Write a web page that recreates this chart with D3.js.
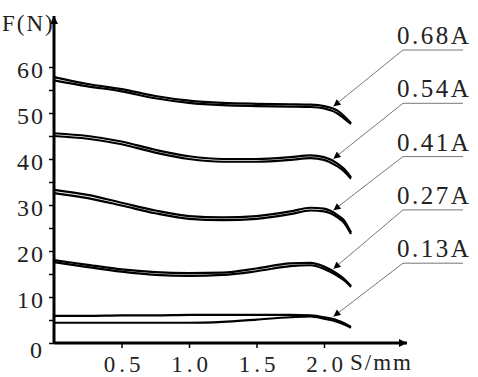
<!DOCTYPE html>
<html>
<head>
<meta charset="utf-8">
<script src="https://cdn.jsdelivr.net/npm/d3@7"></script>
<style>
body { margin: 0; background: #fff; }
text { font-family: "Liberation Serif", "DejaVu Serif", serif; fill: #222; }
</style>
</head>
<body>
<div id="graph1"></div>
<script>
let width = 478;
let height = 377;

// displacement S (mm)
let S = [0, 0.25, 0.5, 0.75, 1.0, 1.25, 1.5, 1.75, 1.9, 2.0, 2.1, 2.15, 2.2];
let currents = ["0.68A", "0.54A", "0.41A", "0.27A", "0.13A"];

// force F (N), two passes for each current
let f068a = [57.8, 56.3, 55.2, 53.7, 52.7, 52.2, 52.0, 51.9, 51.8, 51.5, 50.5, 49.3, 47.8];
let f068b = [57.1, 55.8, 54.7, 53.2, 52.2, 51.7, 51.5, 51.4, 51.3, 51.0, 49.9, 48.8, 47.6];
let f054a = [45.6, 45.0, 43.8, 42.0, 40.6, 40.0, 40.0, 40.4, 40.8, 40.4, 39.0, 37.8, 36.0];
let f054b = [45.0, 44.4, 43.2, 41.4, 40.0, 39.4, 39.4, 39.8, 40.2, 39.8, 38.4, 37.3, 35.7];
let f041a = [33.3, 32.2, 30.5, 28.8, 27.6, 27.3, 27.6, 28.6, 29.4, 29.2, 27.8, 26.6, 24.0];
let f041b = [32.6, 31.5, 29.9, 28.2, 27.0, 26.7, 27.0, 28.0, 28.8, 28.6, 27.3, 26.1, 23.7];
let f027a = [18.0, 17.0, 16.0, 15.4, 15.2, 15.3, 16.2, 17.3, 17.4, 16.6, 15.0, 13.9, 12.4];
let f027b = [17.6, 16.5, 15.5, 14.8, 14.6, 14.8, 15.6, 16.7, 16.9, 16.1, 14.6, 13.6, 12.2];
let f013a = [5.9, 5.9, 6.0, 6.0, 6.1, 6.1, 6.1, 6.1, 6.0, 5.6, 4.9, 4.3, 3.5];
let f013b = [4.4, 4.4, 4.4, 4.4, 4.4, 4.6, 5.1, 5.6, 5.8, 5.3, 4.6, 4.0, 3.3];

let xTicks = [0.5, 1.0, 1.5, 2.0];
let yTicks = [0, 5, 10, 15, 20, 25, 30, 35, 40, 45, 50, 55, 60];

let series = [
    {name: currents[0], lines: [f068a, f068b]},
    {name: currents[1], lines: [f054a, f054b]},
    {name: currents[2], lines: [f041a, f041b]},
    {name: currents[3], lines: [f027a, f027b]},
    {name: currents[4], lines: [f013a, f013b]}
];

let svg = d3.select('#graph1')
    .append('svg')
        .attr('width', width)
        .attr('height', height);

let defs = svg.append('defs');
defs.append('marker')
    .attr('id', 'axisArrow')
    .attr('viewBox', '0 0 10 10')
    .attr('refX', 10).attr('refY', 5)
    .attr('markerUnits', 'userSpaceOnUse')
    .attr('markerWidth', 12).attr('markerHeight', 8)
    .attr('orient', 'auto')
    .append('path').attr('d', 'M0,0L10,5L0,10z').attr('fill', '#000');
defs.append('marker')
    .attr('id', 'leadArrow')
    .attr('viewBox', '0 0 10 10')
    .attr('refX', 10).attr('refY', 5)
    .attr('markerUnits', 'userSpaceOnUse')
    .attr('markerWidth', 13).attr('markerHeight', 7)
    .attr('orient', 'auto')
    .append('path').attr('d', 'M0,0L10,5L0,10z').attr('fill', '#000');

let x = d3.scaleLinear()
    .domain([0, 2.2])
    .range([54, 351]);
let y = d3.scaleLinear()
    .domain([0, 60])
    .range([343, 67]);

// curves
let line = d3.line()
    .x((d, i) => x(S[i]))
    .y(d => y(d))
    .curve(d3.curveMonotoneX);

series.forEach(function(s) {
    s.lines.forEach(function(vals) {
        svg.append('path')
            .attr('d', line(vals))
            .attr('fill', 'none')
            .attr('stroke', '#000')
            .attr('stroke-width', 2.2);
    });
});

// axes
let xAxis = d3.axisBottom(x)
    .tickValues(xTicks)
    .tickSize(5)
    .tickPadding(8)
    .tickFormat(d3.format('.1f'));
let gx = svg.append('g')
    .attr('transform', 'translate(0,343)')
    .call(xAxis);
gx.select('.domain').remove();
gx.selectAll('line').attr('stroke', '#000').attr('stroke-width', 1.5);
gx.selectAll('text')
    .style('font-size', '23px')
    .style('letter-spacing', '4px')
    .attr('dx', '2px')
    .attr('fill', '#222');

let yAxis = d3.axisLeft(y)
    .tickValues(yTicks)
    .tickSize(5)
    .tickPadding(6)
    .tickFormat(d => d % 10 === 0 ? d : '');
let gy = svg.append('g')
    .attr('transform', 'translate(54,0)')
    .call(yAxis);
gy.select('.domain').remove();
gy.selectAll('line').attr('stroke', '#000').attr('stroke-width', 1.5);
gy.selectAll('text')
    .style('font-size', '24px')
    .style('letter-spacing', '2px')
    .attr('fill', '#222')
    .attr('dy', d => d === 0 ? '0.6em' : '0.42em')
    .attr('x', d => d === 0 ? -10 : -9);

svg.append('line')
    .attr('x1', 54).attr('y1', 343)
    .attr('x2', 407).attr('y2', 343)
    .attr('stroke', '#000').attr('stroke-width', 3)
    .attr('marker-end', 'url(#axisArrow)');
svg.append('line')
    .attr('x1', 54).attr('y1', 344)
    .attr('x2', 54).attr('y2', 16)
    .attr('stroke', '#000').attr('stroke-width', 3)
    .attr('marker-end', 'url(#axisArrow)');

svg.append('text')
    .attr('x', 350).attr('y', 370)
    .style('font-size', '23px')
    .style('letter-spacing', '2px')
    .text('S/mm');
svg.append('text')
    .attr('x', 2).attr('y', 31)
    .style('font-size', '23px')
    .style('letter-spacing', '2px')
    .text('F(N)');

// labels with leaders
let sTip = 2.07;
series.forEach(function(s, i) {
    let yu = 50 + i * 53.3;
    let fTip = d3.interpolateNumber(s.lines[0][9], s.lines[0][10])((sTip - S[9]) / (S[10] - S[9]));
    svg.append('line')
        .attr('x1', 403).attr('y1', yu)
        .attr('x2', 463).attr('y2', yu)
        .attr('stroke', '#777').attr('stroke-width', 1);
    svg.append('line')
        .attr('x1', 403).attr('y1', yu)
        .attr('x2', x(sTip)).attr('y2', y(fTip) - 3)
        .attr('stroke', '#777').attr('stroke-width', 1)
        .attr('marker-end', 'url(#leadArrow)');
    svg.append('text')
        .attr('x', 397).attr('y', yu - 6)
        .style('font-size', '25px')
        .style('letter-spacing', '2.5px')
        .text(s.name);
});
</script>
</body>
</html>
